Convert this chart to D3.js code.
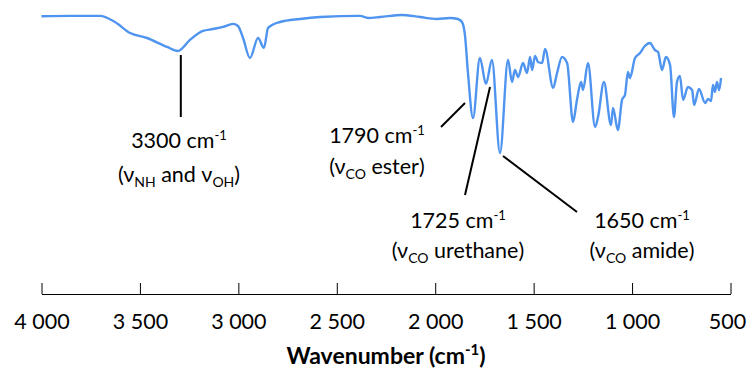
<!DOCTYPE html>
<html>
<head>
<meta charset="utf-8">
<script src="https://cdn.jsdelivr.net/npm/d3@7/dist/d3.min.js"></script>
<style>
  html, body { margin: 0; padding: 0; background: #fff; }
  svg { display: block; font-family: Lato, "Open Sans", sans-serif; }
</style>
</head>
<body>
<svg id="chart" width="747" height="369"></svg>
<script>
// Wavenumber (cm-1) of spectrum points
const wavenumbers = [4000, 3855, 3703, 3627, 3550, 3464, 3362, 3307, 3246, 3180, 3129, 3078, 3027, 3002, 2976, 2941, 2900, 2870, 2849, 2788, 2687, 2585, 2382, 2341, 2280, 2169, 2077, 1991, 1925, 1885, 1864, 1849, 1834, 1808, 1773, 1742, 1712, 1671, 1630, 1610, 1595, 1579, 1554, 1534, 1518, 1508, 1493, 1478, 1457, 1442, 1401, 1381, 1356, 1330, 1300, 1280, 1259, 1249, 1224, 1188, 1173, 1143, 1107, 1097, 1072, 1051, 1036, 1021, 1011, 985, 960, 935, 909, 884, 868, 848, 828, 807, 787, 772, 757, 741, 716, 695, 685, 660, 629, 614, 599, 589, 579, 569, 558, 548];
// Transmittance (arbitrary %, estimated)
const transmittance = [96.1, 96.3, 96.3, 92.5, 85.6, 82.5, 76.9, 74.4, 81.3, 86.9, 88.1, 89.4, 91.3, 90.0, 82.5, 70.0, 82.5, 76.3, 88.8, 92.5, 94.4, 95.6, 96.3, 95.0, 95.6, 96.9, 95.6, 94.4, 95.0, 94.4, 92.5, 84.4, 61.3, 32.5, 70.0, 53.8, 68.8, 10.6, 68.8, 55.0, 62.5, 58.1, 66.9, 60.6, 70.6, 62.5, 71.3, 67.5, 66.9, 75.6, 51.3, 60.6, 70.6, 66.9, 30.0, 43.8, 55.0, 50.0, 66.9, 26.9, 33.1, 55.0, 28.1, 38.8, 25.0, 43.8, 46.9, 61.3, 57.5, 70.0, 73.1, 77.5, 79.4, 75.0, 73.8, 62.5, 70.6, 65.6, 33.1, 55.0, 58.8, 43.8, 51.9, 50.0, 40.6, 50.6, 41.9, 44.4, 43.1, 53.1, 48.8, 55.0, 50.0, 57.5];
// Axis ticks
const tickValues = [4000, 3500, 3000, 2500, 2000, 1500, 1000, 500];
const tickLabels = ["4 000", "3 500", "3 000", "2 500", "2 000", "1 500", "1 000", "500"];
// Annotations
const annotationWavenumbers = [3300, 1790, 1725, 1650];
const annotationGroups = [["NH", "OH"], ["CO"], ["CO"], ["CO"]];
const annotationAssignments = ["and", "ester", "urethane", "amide"];

const svg = d3.select("#chart");
const x = d3.scaleLinear().domain([4000, 500]).range([41.5, 730.5]);
const y = d3.scaleLinear().domain([0, 100]).range([170, 10]);

const data = wavenumbers.map((w, i) => ({ w, t: transmittance[i] }));

svg.append("path")
  .datum(data)
  .attr("fill", "none")
  .attr("stroke", "#4f94ef")
  .attr("stroke-width", 2.4)
  .attr("stroke-linejoin", "round")
  .attr("d", d3.line().x(d => x(d.w)).y(d => y(d.t)).curve(d3.curveMonotoneX));

// Axis
const axisY = 294;
const axis = d3.axisBottom(x)
  .tickValues(tickValues)
  .tickFormat((d, i) => tickLabels[i])
  .tickSizeInner(-11)
  .tickSizeOuter(0)
  .tickPadding(20);
const gAxis = svg.append("g").attr("transform", `translate(0,${axisY})`).call(axis);
gAxis.select(".domain").attr("stroke", "#000").attr("stroke-width", 1);
gAxis.selectAll(".tick line").attr("stroke", "#000").attr("stroke-width", 1);
gAxis.selectAll(".tick text")
  .attr("font-family", "Lato, sans-serif")
  .attr("font-size", 21.5)
  .attr("fill", "#000")
  .attr("dx", (d, i) => i === tickValues.length - 1 ? -3.5 : 0);

// Axis title
const title = svg.append("text")
  .attr("x", 386).attr("y", 364)
  .attr("text-anchor", "middle")
  .attr("font-size", 23)
  .attr("font-weight", "bold")
  .attr("fill", "#000");
title.append("tspan").text("Wavenumber (cm");
title.append("tspan").attr("dy", -9).attr("font-size", 15).text("-1");
title.append("tspan").attr("dy", 9).text(")");

// Annotation leader lines (layout)
const leaders = [
  [[x(annotationWavenumbers[0]) + 1.5, 55], [x(annotationWavenumbers[0]) + 1.5, 117]],
  [[465, 103], [441, 127]],
  [[490, 87], [465, 195]],
  [[503, 156], [577, 212]]
];
svg.selectAll("line.leader").data(leaders).enter().append("line")
  .attr("class", "leader")
  .attr("x1", d => d[0][0]).attr("y1", d => d[0][1])
  .attr("x2", d => d[1][0]).attr("y2", d => d[1][1])
  .attr("stroke", "#000").attr("stroke-width", 2);

const labelPos = [
  { cx: 179, y1: 148, y2: 182 },
  { cx: 377, y1: 143, y2: 174 },
  { cx: 458, y1: 228, y2: 258 },
  { cx: 642, y1: 228, y2: 258 }
];
const fs = 21.5;
annotationWavenumbers.forEach((w, i) => {
  const p = labelPos[i];
  const t1 = svg.append("text").attr("x", p.cx).attr("y", p.y1)
    .attr("text-anchor", "middle").attr("font-size", fs).attr("fill", "#000");
  t1.append("tspan").text(w + " cm");
  t1.append("tspan").attr("dy", -8).attr("font-size", 13).text("-1");
  const t2 = svg.append("text").attr("x", p.cx).attr("y", p.y2)
    .attr("text-anchor", "middle").attr("font-size", fs).attr("fill", "#000");
  const g = annotationGroups[i];
  if (g.length === 2) {
    t2.append("tspan").text("(ν");
    t2.append("tspan").attr("dy", 5).attr("font-size", 14).text(g[0]);
    t2.append("tspan").attr("dy", -5).text(" " + annotationAssignments[i] + " ν");
    t2.append("tspan").attr("dy", 5).attr("font-size", 14).text(g[1]);
    t2.append("tspan").attr("dy", -5).text(")");
  } else {
    t2.append("tspan").text("(ν");
    t2.append("tspan").attr("dy", 5).attr("font-size", 14).text(g[0]);
    t2.append("tspan").attr("dy", -5).text(" " + annotationAssignments[i] + ")");
  }
});
</script>
</body>
</html>
